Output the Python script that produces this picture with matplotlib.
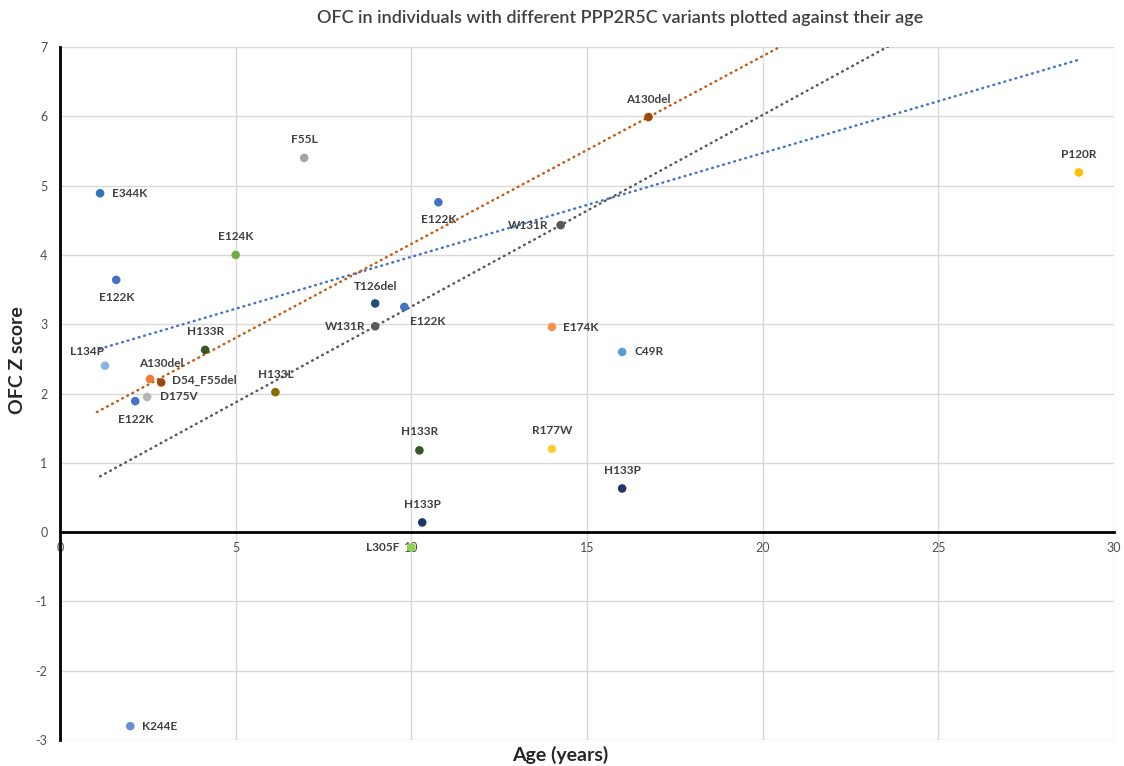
import numpy as np
import matplotlib
matplotlib.use('Agg')
import matplotlib.pyplot as plt

plt.rcParams['font.family'] = ['Lato', 'DejaVu Sans']
plt.rcParams['axes.unicode_minus'] = False

# variant, age (years), OFC z score
variants = ['E344K', 'E122K', 'L134P', 'A130del', 'D54_F55del', 'D175V', 'E122K',
            'E124K', 'H133R', 'H133L', 'F55L', 'T126del', 'W131R', 'E122K',
            'E122K', 'H133R', 'H133P', 'L305F', 'W131R', 'E174K', 'R177W',
            'A130del', 'C49R', 'H133P', 'P120R', 'K244E']
age = [1.14, 1.6, 1.28, 2.56, 2.88, 2.48, 2.14,
       5.0, 4.13, 6.13, 6.95, 8.97, 8.97, 9.8,
       10.77, 10.23, 10.31, 10.0, 14.25, 14.0, 14.0,
       16.75, 16.0, 16.0, 29.0, 2.0]
ofc = [4.89, 3.64, 2.40, 2.21, 2.16, 1.95, 1.89,
       4.00, 2.63, 2.02, 5.40, 3.30, 2.97, 3.25,
       4.76, 1.18, 0.14, -0.22, 4.43, 2.96, 1.20,
       5.99, 2.60, 0.63, 5.19, -2.80]

# points used for each linear trendline
trend_e122k = [1, 6, 13, 14]
trend_del = [3, 4, 21]
trend_w131r = [12, 18]

colors = ['#2E75B6', '#4472C4', '#8DB4E2', '#ED7D31', '#9E480E', '#B4B4B4', '#4472C4',
          '#70AD47', '#375623', '#8C6A00', '#A5A5A5', '#1F4E79', '#595959', '#4472C4',
          '#4472C4', '#375623', '#203864', '#92D050', '#595959', '#F4914E', '#FFCD33',
          '#9E480E', '#5B9BD5', '#203864', '#FFC000', '#698ED0']

# label offsets in pixels and alignment
label_pos = [(12, 0, 'left'), (0, -18, 'center'), (-18, 14, 'center'), (11, 15, 'center'),
             (11, 2, 'left'), (13, 0, 'left'), (0, -18, 'center'),
             (0, 18, 'center'), (0, 18, 'center'), (0, 18, 'center'), (0, 18, 'center'),
             (0, 17, 'center'), (-10, 0, 'right'), (23, -15, 'center'),
             (0, -17, 'center'), (0, 19, 'center'), (0, 18, 'center'), (-12, 0, 'right'),
             (-12, 0, 'right'), (11, 0, 'left'), (0, 18, 'center'),
             (0, 18, 'center'), (12, 0, 'left'), (0, 18, 'center'), (0, 18, 'center'),
             (12, 0, 'left')]

age = np.array(age)
ofc = np.array(ofc)

fig = plt.figure(figsize=(11.24, 7.66), dpi=100)
ax = fig.add_axes([0.0534, 0.0339, 0.9377, 0.9047])

ax.set_xlim(0, 30)
ax.set_ylim(-3, 7)
ax.set_xticks(range(0, 31, 5))
ax.set_yticks(range(-3, 8))
ax.grid(True, color='#D9D9D9', lw=1)
ax.set_axisbelow(True)
for s in ['top', 'right']:
    ax.spines[s].set_visible(False)
ax.spines['bottom'].set_position(('data', 0))
ax.spines['bottom'].set_linewidth(2)
ax.spines['left'].set_linewidth(2)
ax.tick_params(length=0, labelsize=9, labelcolor='#505050')
ax.tick_params(axis='x', pad=7)
ax.tick_params(axis='y', pad=9)

# trendlines
for idx, col, x0, x1 in [(trend_e122k, '#4472C4', 1.14, 29.0),
                         (trend_del, '#C55A11', 1.05, 24.0),
                         (trend_w131r, '#595959', 1.14, 26.0)]:
    k, b = np.polyfit(age[idx], ofc[idx], 1)
    xs = np.array([x0, x1])
    ax.plot(xs, k * xs + b, color=col, lw=1.8, ls=(0, (0.3, 2.0)),
            dash_capstyle='round', zorder=2)

ax.scatter(age, ofc, s=38, c=colors, zorder=3, linewidths=0)

for i, name in enumerate(variants):
    dx, dy, ha = label_pos[i]
    ax.annotate(name, (age[i], ofc[i]), xytext=(dx, dy), textcoords='offset pixels',
                ha=ha, va='center', fontsize=8.5, color='#404040', fontweight='bold',
                zorder=4)

fig.text(0.552, 0.976, 'OFC in individuals with different PPP2R5C variants plotted against their age',
         ha='center', va='center', fontsize=13, color='#404040', fontweight='semibold')
fig.text(0.498, 0.014, 'Age (years)', ha='center', va='center', fontsize=14,
         fontweight='bold', color='#262626')
fig.text(0.016, 0.53, 'OFC Z score', ha='center', va='center', fontsize=14,
         fontweight='bold', color='#262626', rotation=90)

fig.savefig('out.png', dpi=100)
